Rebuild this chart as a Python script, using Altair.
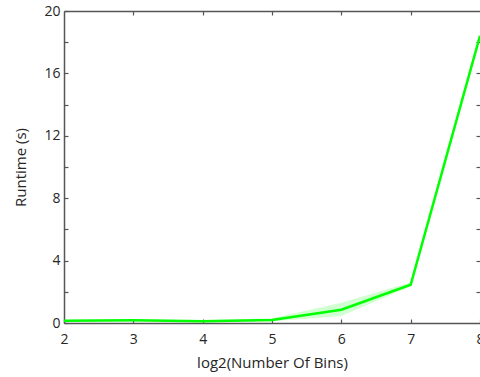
import altair as alt
import pandas as pd

# data
log2_bins = [2, 3, 4, 5, 6, 7, 8]
runtime = [0.15, 0.17, 0.12, 0.2, 0.85, 2.45, 18.4]
runtime_lo = [0.1, 0.12, 0.07, 0.12, 0.45, 2.35, 18.2]
runtime_hi = [0.2, 0.22, 0.17, 0.3, 1.3, 2.6, 18.6]

x_label_ticks = [2, 3, 4, 5, 6, 7, 8]
x_top_ticks = [3, 4, 5, 6, 7]
y_label_ticks = [0, 4, 8, 12, 16, 20]
y_all_ticks = [0, 2, 4, 6, 8, 10, 12, 14, 16, 18, 20]
y_right_ticks = [2, 4, 6, 8, 10, 12, 14, 16, 18]

df = pd.DataFrame({"x": log2_bins, "v": runtime, "lo": runtime_lo, "hi": runtime_hi})

FONT = "Open Sans"
AX = "#555555"
TXT = "#262626"

xs = alt.Scale(domain=[2, 8], nice=False, zero=False)
ys = alt.Scale(domain=[0, 20], nice=False)

base = alt.Chart(df)

# layer 1: band + labelled axes
band = base.mark_area(color="#00ff00", opacity=0.18).encode(
    x=alt.X("x:Q", scale=xs, axis=alt.Axis(
        orient="bottom", values=x_label_ticks, ticks=False, domain=True,
        domainColor=AX, domainWidth=1.5, grid=False,
        labelFont=FONT, labelFontSize=14, labelColor=TXT, labelPadding=9,
        labelFlush=False,
        title="log2(Number Of Bins)", titleFont=FONT, titleFontSize=15,
        titleFontWeight="normal", titleColor=TXT, titlePadding=9)),
    y=alt.Y("lo:Q", scale=ys, axis=alt.Axis(
        orient="left", values=y_label_ticks, ticks=False, domain=True,
        domainColor=AX, domainWidth=1.5, grid=False,
        labelFont=FONT, labelFontSize=14, labelColor=TXT, labelPadding=4,
        labelFlush=False,
        title="Runtime (s)", titleFont=FONT, titleFontSize=15,
        titleFontWeight="normal", titleColor=TXT, titlePadding=15)),
    y2="hi:Q",
)

# layer 2: the line + inward ticks on bottom / left
line = base.mark_line(color="#00ff00", strokeWidth=2.5).encode(
    x=alt.X("x:Q", scale=xs, axis=alt.Axis(
        orient="bottom", offset=-4, values=x_label_ticks, ticks=True,
        tickSize=4, tickColor=AX, tickWidth=1.2, labels=False, domain=False,
        grid=False, title=None)),
    y=alt.Y("v:Q", scale=ys, axis=alt.Axis(
        orient="left", offset=-4, values=y_all_ticks, ticks=True,
        tickSize=4, tickColor=AX, tickWidth=1.2, labels=False, domain=False,
        grid=False, title=None)),
)

# layer 3: inward ticks on top / right
ghost1 = base.mark_line(strokeOpacity=0).encode(
    x=alt.X("x:Q", scale=xs, axis=alt.Axis(
        orient="top", offset=-4, values=x_top_ticks, ticks=True,
        tickSize=4, tickColor=AX, tickWidth=1.2, labels=False, domain=False,
        grid=False, title=None)),
    y=alt.Y("v:Q", scale=ys, axis=alt.Axis(
        orient="right", offset=-4, values=y_right_ticks, ticks=True,
        tickSize=4, tickColor=AX, tickWidth=1.2, labels=False, domain=False,
        grid=False, title=None)),
)

# layer 4: top border line
ghost2 = base.mark_line(strokeOpacity=0).encode(
    x=alt.X("x:Q", scale=xs, axis=alt.Axis(
        orient="top", ticks=False, labels=False, domain=True,
        domainColor=AX, domainWidth=1.5, grid=False, title=None)),
    y=alt.Y("v:Q", scale=ys, axis=None),
)

chart = (
    alt.layer(band, line, ghost1, ghost2)
    .resolve_axis(x="independent", y="independent")
    .properties(
        width=416, height=312,
        autosize=alt.AutoSizeParams(type="none"),
        padding={"left": 64, "top": 11, "right": 0, "bottom": 54},
    )
    .configure_view(stroke=None)
)

chart.save("out.html", embed_options={"renderer": "svg", "actions": False})
